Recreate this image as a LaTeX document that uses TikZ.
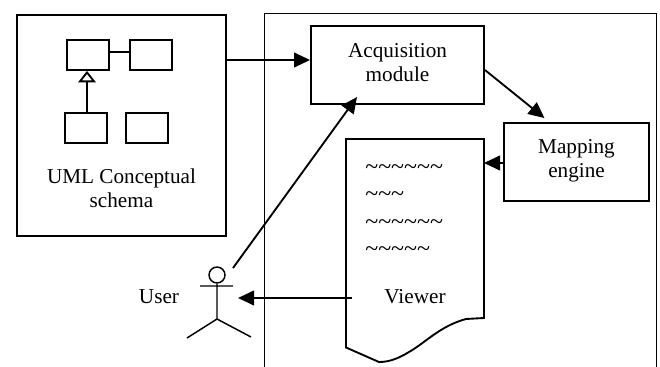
\documentclass[tikz,border=0pt]{standalone}
\usepackage{fontspec}
\setmainfont{Liberation Serif}
\usetikzlibrary{arrows.meta}
\tikzstyle{mybox} = [draw=black, fill=white, line width=1.4pt, rectangle, inner sep=0pt, align=center,
    font=\fontsize{15.9}{18}\selectfont]
\tikzstyle{classbox} = [draw=black, fill=white, line width=1.4pt, rectangle, inner sep=0pt,
    minimum width=31.5pt, minimum height=22.5pt]
\tikzstyle{mytext} = [inner sep=0pt, align=center, font=\fontsize{15.9}{18}\selectfont]
\tikzstyle{wavetext} = [inner sep=0pt, anchor=west, font=\fontsize{18}{18}\selectfont]
\tikzstyle{myarrow} = [line width=1.4pt, -{Triangle[length=12pt,width=11pt]}]

\begin{document}
\begin{tikzpicture}[x=0.75pt,y=-0.75pt]
                \useasboundingbox (0,0) rectangle (660,367);
                % frame, open at the bottom
                \draw[line width=0.6pt] (264,367) -- (264,13) -- (656,13) -- (656,367);
                % schema box
                \node [mybox, minimum width=156.75pt, minimum height=165.75pt] (umlbox) at (121.5,125.5) {};
                \node [classbox] (class1) at (88,55) {};
                \node [classbox] (class2) at (151,55) {};
                \node [classbox] (class3) at (86,128) {};
                \node [classbox] (class4) at (147,128) {};
                \node [mytext] (umltext) at (121.5,188) {UML Conceptual\\schema};
                \draw[line width=1.4pt] ([yshift=2.25pt]class1.east) -- ([yshift=2.25pt]class2.west);
                \draw[line width=2pt, -{Triangle[open,length=8.5pt,width=13pt,line width=1.4pt]}]
                    ([xshift=0.75pt]class3.north) -- ([xshift=-0.75pt]class1.south);
                % modules
                \node [mybox, minimum width=129.75pt, minimum height=58.5pt] (acquisition) at (397.5,65) {Acquisition\\module\\[-13.5pt]};
                \node [mybox, minimum width=108.75pt, minimum height=58.5pt] (mapping) at (576.5,162) {Mapping\\engine\\[-12pt]};
                % viewer page
                \coordinate (pagetl) at (346,139);
                \coordinate (pagetr) at (484,139);
                \draw[line width=1.4pt, fill=white] (pagetl) -- (pagetr) -- (484,318) -- (466,319)
                    .. controls (440,326) and (425,343) .. (409,352)
                    .. controls (399,358) and (390,362) .. (379,362)
                    -- (346,347.5) -- cycle;
                \node [wavetext] (wave1) at (365,170) {\textasciitilde\textasciitilde\textasciitilde\textasciitilde\textasciitilde\textasciitilde};
                \node [wavetext] (wave2) at (365,197) {\textasciitilde\textasciitilde\textasciitilde};
                \node [wavetext] (wave3) at (365,225) {\textasciitilde\textasciitilde\textasciitilde\textasciitilde\textasciitilde\textasciitilde};
                \node [wavetext] (wave4) at (365,252) {\textasciitilde\textasciitilde\textasciitilde\textasciitilde\textasciitilde};
                \node [mytext] (viewer) at (415,297) {Viewer};
                % actor
                \node [draw, circle, line width=1.1pt, inner sep=0pt, minimum size=12pt] (head) at (217,275) {};
                \node [mytext] (user) at (159,297) {User};
                \coordinate (hip) at (217,319);
                \coordinate (handl) at (200,286);
                \coordinate (handr) at (233,286);
                \coordinate (footl) at (187,338);
                \coordinate (footr) at (251,337);
                \coordinate (userin) at (238,298);
                \coordinate (userout) at (233,268);
                \draw[line width=1.1pt] (head.south) -- (hip) (handl) -- (handr) (footl) -- (hip) -- (footr);
                % connectors
                \draw[myarrow] ([yshift=49.1pt]umlbox.east) -- ([yshift=3.75pt]acquisition.west);
                \draw[myarrow] ([yshift=-3.75pt]acquisition.east) -- ([xshift=-24pt,yshift=3pt]mapping.north);
                \draw[myarrow] (mapping.west |- 504,163) -- (pagetr |- 504,163);
                \draw[myarrow] (userout) -- (357,97);
                \draw[myarrow] (352,298) -- (userin);
            \end{tikzpicture}
\end{document}
